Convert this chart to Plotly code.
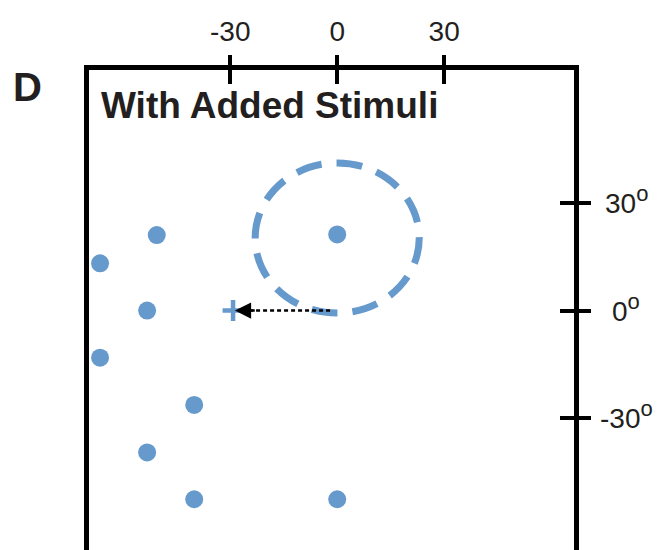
import plotly.graph_objects as go

# ---- data ----
stim_x = [-50.6, -66.5, -53.3, -66.5, -40.1, -53.3, -40.1, 0.0, 0.0]
stim_y = [21.1, 13.2, 0.0, -13.2, -26.4, -39.7, -52.8, -52.8, 21.3]
target_x = [-29.2]
target_y = [0.0]
arrow_from = [-2.0, 0.0]
arrow_to = [-28.7, 0.0]
field_x = [-23.0, 23.0]
field_y = [-0.7, 41.3]
xtick_vals = [-30, 0, 30]
xtick_text = ["-30", "0", "30"]
ytick_vals = [30, 0, -30]
ytick_text = ["30", "0", "-30"]
title_text = "With Added Stimuli"
panel_label = "D"

BLUE = "#6699cc"
INK = "#231f20"
FONT = "Liberation Sans, Arial, Helvetica, sans-serif"

W, H = 659, 550
ML, MR, MT, MB = 89, 85, 70, 0
XR = [-69.6, 66.4]
YR = [-67.0, 67.3]


def px_x(p):
    return (p - ML) / (W - ML - MR)


def px_y(p):
    return (H - MB - p) / (H - MT - MB)


fig = go.Figure()

# dotted arrow shaft
fig.add_trace(go.Scatter(
    x=[arrow_from[0], arrow_to[0] + 3.0], y=[arrow_from[1], arrow_to[1]],
    mode="lines", line=dict(color="black", width=2.5, dash="4px,3px"),
    hoverinfo="skip", showlegend=False))

# stimuli
fig.add_trace(go.Scatter(
    x=stim_x, y=stim_y, mode="markers",
    marker=dict(size=18, color=BLUE, line=dict(width=0)),
    showlegend=False))

# target cross
fig.add_trace(go.Scatter(
    x=target_x, y=target_y, mode="markers",
    marker=dict(symbol="cross-thin", size=15, color=BLUE,
                line=dict(width=4.5, color=BLUE)),
    showlegend=False))

# invisible trace for overlay axes (inside ticks)
fig.add_trace(go.Scatter(x=[0], y=[0], xaxis="x2", yaxis="y2", mode="markers",
                         marker=dict(opacity=0), hoverinfo="skip", showlegend=False))

# dashed receptive field
fig.add_shape(type="circle", xref="x", yref="y",
              x0=field_x[0], x1=field_x[1], y0=field_y[0], y1=field_y[1],
              line=dict(color=BLUE, width=7, dash="26px,15px"), layer="below")

# arrow head
fig.add_annotation(x=arrow_to[0], y=arrow_to[1], ax=arrow_to[0] + 6, ay=arrow_to[1],
                   xref="x", yref="y", axref="x", ayref="y", text="",
                   showarrow=True, arrowhead=2, arrowsize=1.3, arrowwidth=2.5,
                   arrowcolor="black")

# right tick labels (centered)
for v, t in zip(ytick_vals, ytick_text):
    fig.add_annotation(x=px_x(626), y=v, xref="paper", yref="y", yshift=3,
                       text=t + "<sup><span style='font-size:22px'>o</span></sup>",
                       showarrow=False, xanchor="center", yanchor="middle",
                       font=dict(family=FONT, size=28, color=INK))

# title
fig.add_annotation(x=px_x(99), y=px_y(106), xref="paper", yref="paper",
                   text="<b>" + title_text + "</b>", showarrow=False,
                   xanchor="left", yanchor="middle",
                   font=dict(family=FONT, size=37, color=INK))

# panel label
fig.add_annotation(x=px_x(27), y=px_y(87), xref="paper", yref="paper",
                   text="<b>" + panel_label + "</b>", showarrow=False,
                   xanchor="center", yanchor="middle",
                   font=dict(family=FONT, size=40, color=INK))

axis_common = dict(showgrid=False, zeroline=False)

fig.update_layout(
    width=W, height=H,
    margin=dict(l=ML, r=MR, t=MT, b=MB, pad=0),
    paper_bgcolor="white", plot_bgcolor="white",
    xaxis=dict(range=XR, side="top", showline=True, linewidth=5, linecolor="black",
               mirror=False, ticks="outside", ticklen=10, tickwidth=4, tickcolor="black",
               tickvals=xtick_vals, ticktext=xtick_text, ticklabelstandoff=3,
               tickfont=dict(family=FONT, size=28, color=INK), **axis_common),
    yaxis=dict(range=YR, side="right", showline=True, linewidth=5, linecolor="black",
               mirror=True, ticks="outside", ticklen=12, tickwidth=4, tickcolor="black",
               tickvals=ytick_vals, showticklabels=False, **axis_common),
    xaxis2=dict(range=XR, overlaying="x", side="top", anchor="y2", ticks="inside",
                ticklen=14, tickwidth=4, tickcolor="black", tickvals=xtick_vals,
                showticklabels=False, showline=False, **axis_common),
    yaxis2=dict(range=YR, overlaying="y", side="right", anchor="x2", ticks="inside",
                ticklen=14, tickwidth=4, tickcolor="black", tickvals=ytick_vals,
                showticklabels=False, showline=False, **axis_common),
)

fig.write_html("out.html")
